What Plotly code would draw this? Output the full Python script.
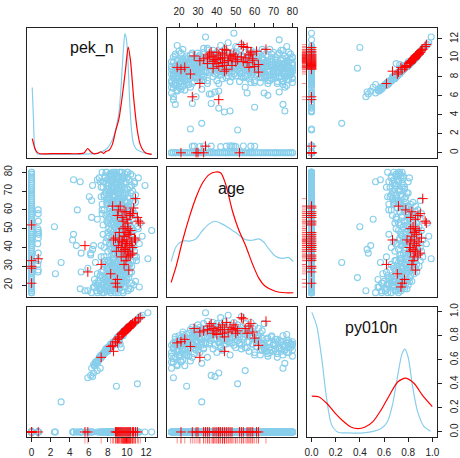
import plotly.graph_objects as go

# ---------------- data ----------------
VARS = ["pek_n", "age", "py010n"]
DATA_MIN = [0.0, 16.0, 0.0]
DATA_MAX = [12.68, 80.0, 1.0]

PEK_TICKS = [0, 2, 4, 6, 8, 10, 12]
AGE_TICKS = [20, 30, 40, 50, 60, 70, 80]
PY_TICKS = [0.0, 0.2, 0.4, 0.6, 0.8, 1.0]

# blue group: pek_n = 0, py010n = 0
zero_age = [16, 16, 17, 18, 18, 19, 20, 21, 22, 23, 24, 25, 26, 27, 28, 29, 30, 31, 32, 33, 34, 35,
            36, 37, 38, 39, 40, 41, 42, 43, 44, 45, 46, 47, 48, 49, 50, 51, 52, 53, 54, 55, 56, 57,
            58, 59, 60, 61, 62, 63, 64, 65, 66, 67, 68, 69, 70, 71, 72, 73, 74, 75, 76, 77, 78, 79,
            80, 80, 24, 33, 45, 58, 71]
# blue group: pek_n about 0.7, py010n = 0
z2_pek = [0.68, 0.70, 0.66, 0.72, 0.70, 0.65, 0.70, 0.74, 0.68, 0.70, 0.66, 0.71, 0.70, 0.69]
z2_age = [27, 28, 31, 33, 37, 42, 45, 47, 48, 49, 50, 54, 58, 60]
# blue group: py010n = 0, pek_n > 2
s_pek = [9.6, 8.8, 10.1, 7.9, 9.2, 10.4, 8.4, 9.8, 6.9, 10.7, 9.0, 8.1, 9.9, 10.9, 7.4, 11.3, 5.6, 5.1,
         9.4, 10.2, 8.6, 7.2, 9.9, 2.5, 10.5, 5.2, 8.9, 8.0, 5.9, 9.7, 10.3, 8.2, 7.7, 11.0, 9.3, 10.0, 7.6, 9.8,
         6.2, 5.2, 9.1, 10.4, 8.7, 7.3, 9.5, 4.7, 10.1, 8.5, 4.3, 7.9, 9.9, 4.4, 10.6, 9.2, 8.0, 10.2, 12.6, 2.4, 9.6, 11.2,
         7.5, 9.0, 10.3, 7.9, 8.8, 6.3, 9.7, 10.8, 7.4, 9.3, 4.8, 10.0, 8.6, 9.8, 10.5, 8.3, 9.1, 10.9, 6.3, 9.5, 8.9, 10.2,
         6.05, 9.4, 10.1, 8.7, 9.9, 10.6, 8.2, 9.3, 10.3, 11.9, 6.4, 8.9, 9.7, 10.8, 5.1, 7.6, 4.4, 7.1, 9.0, 10.0,
         8.4, 9.6, 10.4, 8.8, 9.2, 10.1, 7.8, 11.2, 9.5, 10.9]
s_age = [16, 16, 17, 17, 18, 18, 19, 19, 20, 20, 21, 21, 22, 22, 18, 19, 17, 18,
         23, 24, 25, 25, 26, 26, 27, 27, 28, 29, 29, 30, 31, 32, 33, 33, 34, 35, 35, 24,
         36, 37, 37, 38, 39, 41, 40, 41, 42, 43, 44, 45, 45, 47, 46, 47, 48, 49, 49, 51, 50, 50,
         52, 52, 53, 54, 55, 56, 56, 57, 58, 58, 60, 59, 60, 61, 62, 62, 63, 64, 65, 65, 64, 61,
         67, 66, 67, 68, 69, 70, 70, 71, 72, 73, 73, 73, 74, 74, 75, 75, 76, 77, 76, 77,
         78, 78, 79, 79, 80, 80, 80, 77, 72, 68]
# more py010n = 0 points in the dense core
s2_pek = [9.1, 8.3, 9.5, 10.2, 8.9, 9.3, 8.0, 9.7, 10.5, 8.6, 9.2, 10.0, 8.7, 9.5, 10.3, 8.4, 9.6, 9.0, 10.1, 8.8,
          9.4, 8.5, 10.0, 9.1, 9.8, 8.7, 10.2, 9.3, 8.4, 9.9, 10.6, 9.0, 8.6, 9.7, 10.3, 9.2, 8.9, 10.0, 9.5,
          8.3, 10.5, 9.3, 8.1, 9.8, 10.8,
          9.6, 8.7, 10.1, 9.2, 9.9, 8.5, 10.4, 9.0, 9.7, 8.9, 10.2, 9.4, 8.6, 10.0, 9.1, 9.8, 8.2, 10.6, 9.5, 8.8,
          9.2, 10.3, 8.5, 9.6, 9.0, 10.4, 8.7, 9.8, 10.1, 8.4, 9.3, 10.5, 9.0, 8.6, 9.9, 10.2, 9.4, 8.9, 9.7, 10.6,
          9.1, 8.3, 9.8, 10.0, 8.7, 9.5, 9.3, 10.8, 8.0, 9.6]
s2_age = [16, 17, 17, 18, 19, 20, 20, 21, 21, 22, 23, 23, 24, 25, 26, 27, 28, 29, 30, 30,
          31, 32, 33, 34, 36, 37, 38, 39, 40, 41, 42, 43, 44, 44, 45, 46, 47, 48, 48,
          49, 50, 51, 46, 40, 35,
          52, 53, 54, 55, 56, 57, 58, 59, 60, 61, 62, 63, 63, 64, 65, 65, 58, 60, 54, 51,
          66, 66, 67, 68, 69, 69, 70, 71, 71, 72, 73, 73, 74, 75, 75, 76, 76, 77, 77, 78,
          78, 79, 79, 80, 80, 80, 70, 75, 73, 67]
# blue group: py010n > 0
b_pek = [6.3, 7.4, 8.2, 6.8, 7.9, 5.9, 8.6, 7.1, 9.1, 6.5, 7.7, 8.4, 9.4, 7.3, 8.0, 6.7, 8.8, 7.6,
         9.7, 8.3, 7.0, 8.9, 7.8, 6.6, 9.3, 8.1, 7.4, 8.9, 9.6, 8.5, 7.2,
         9.9, 8.0, 6.9, 9.2, 8.6, 10.3, 7.5, 9.5, 8.3, 10.0, 8.8, 7.9, 9.4, 10.5, 8.4, 9.0, 7.7, 10.2,
         8.7, 9.8, 3.1, 6.7, 10.6, 9.3, 8.1, 12.2, 9.6, 8.5, 10.1, 7.3, 9.1, 11.0,
         9.7, 8.6, 10.4, 6.2, 9.2, 8.0, 10.8, 9.5, 6.4, 8.9, 10.0, 9.4, 7.6, 10.6, 6.5, 8.7, 9.9, 11.3,
         9.1, 8.2, 10.3, 9.6, 7.8, 8.9, 10.9, 9.3, 10.1, 8.4, 9.7, 11.6, 8.8, 10.5, 9.0, 7.5, 9.8, 8.5,
         10.7, 9.2, 8.1, 10.0, 11.1, 9.5,
         9.4, 10.4, 8.6, 9.9, 11.4, 8.3, 10.2, 9.1, 9.7, 6.9, 8.0, 10.6, 9.3, 8.7, 10.0, 7.8, 9.6, 10.8,
         8.4, 9.2, 10.3, 7.6, 9.0, 8.2, 10.1, 8.8, 9.5, 7.4, 9.8, 8.5, 7.9, 10.7,
         8.0, 9.1, 7.3, 8.6, 9.6, 7.8, 8.3, 9.0, 7.5, 8.7, 9.4, 8.1, 7.2, 6.9, 8.4, 9.2, 7.7, 8.9,
         8.2, 9.3, 7.9, 8.5]
b_age = [16, 16, 17, 17, 17, 17, 18, 18, 18, 19, 19, 19, 20, 20, 20, 21, 21, 21,
         22, 22, 22, 23, 23, 23, 24, 24, 24, 24, 25, 25, 25,
         26, 26, 26, 27, 27, 27, 28, 28, 28, 29, 29, 29, 30, 30, 30, 31, 31, 31,
         32, 32, 32, 32, 33, 33, 33, 34, 34, 34, 35, 35, 35, 35,
         36, 36, 37, 37, 37, 38, 38, 38, 39, 39, 39, 40, 40, 40, 41, 41, 41, 42,
         42, 42, 43, 43, 43, 44, 44, 44, 45, 45, 46, 46, 46, 47, 47, 47, 48, 48,
         49, 49, 50, 50, 51, 50,
         51, 51, 52, 52, 53, 53, 53, 54, 54, 55, 55, 55, 56, 56, 57, 57, 58, 58,
         59, 59, 60, 60, 61, 61, 62, 62, 63, 63, 64, 64, 65, 65,
         66, 67, 67, 68, 69, 69, 70, 71, 72, 72, 73, 74, 75, 76, 76, 77, 78, 78,
         79, 80, 80, 80]
b_py = [0.53, 0.63, 0.70, 0.58, 0.69, 0.45, 0.74, 0.62, 0.77, 0.56, 0.67, 0.72, 0.80, 0.64, 0.68, 0.58, 0.76, 0.66,
        0.83, 0.73, 0.60, 0.77, 0.69, 0.55, 0.81, 0.71, 0.64, 0.38, 0.82, 0.74, 0.63,
        0.85, 0.70, 0.59, 0.79, 0.75, 0.87, 0.65, 0.82, 0.72, 0.86, 0.76, 0.68, 0.81, 0.89, 0.71, 0.78, 0.66, 0.87,
        0.75, 0.84, 0.25, 0.57, 0.90, 0.80, 0.70, 0.99, 0.83, 0.73, 0.86, 0.62, 0.79, 0.92,
        0.84, 0.74, 0.88, 0.47, 0.80, 0.69, 0.91, 0.82, 0.46, 0.77, 0.86, 0.81, 0.66, 0.90, 0.49, 0.75, 0.85, 0.95,
        0.78, 0.71, 0.88, 0.83, 0.68, 0.76, 0.92, 0.81, 0.87, 0.73, 0.84, 0.97, 0.75, 0.89, 0.78, 0.64, 0.85, 0.74,
        0.91, 0.80, 0.70, 0.85, 0.40, 0.82,
        0.81, 0.89, 0.74, 0.85, 0.96, 0.72, 0.87, 0.79, 0.84, 0.51, 0.70, 0.90, 0.80, 0.75, 0.86, 0.67, 0.83, 0.91,
        0.73, 0.79, 0.88, 0.66, 0.78, 0.71, 0.86, 0.76, 0.82, 0.64, 0.84, 0.73, 0.69, 0.90,
        0.67, 0.78, 0.63, 0.74, 0.80, 0.68, 0.72, 0.77, 0.65, 0.75, 0.70, 0.69, 0.53, 0.57, 0.72, 0.76, 0.66, 0.74,
        0.70, 0.73, 0.68, 0.72]
# more py010n > 0 points in the dense core (near the upper edge of the band)
b2_pek = [7.6, 8.1, 8.7, 7.3, 8.4, 7.9, 8.9, 7.5, 8.6, 8.2, 9.1, 7.8, 8.8, 8.4, 9.3, 7.7, 8.6, 9.0, 8.1, 9.5,
          9.0, 8.5, 9.4, 8.1, 9.8, 8.7, 9.3, 9.9, 8.9, 9.5, 8.3, 9.1, 10.0, 8.6, 9.3, 9.8, 8.4, 9.2, 9.9, 8.8,
          9.5, 8.3, 9.6, 9.0, 10.1, 8.6, 9.3, 9.8, 8.9, 9.4, 10.2, 8.5, 9.1, 9.7, 8.2, 9.6, 8.0, 10.3, 8.7, 9.2,
          9.3, 8.6, 9.8, 9.0, 8.3, 9.5, 10.0, 8.8, 9.2, 8.4, 9.7, 8.9, 9.4, 8.1, 9.9, 8.7, 9.2, 8.5, 9.6, 8.9,
          8.2, 9.3, 8.6, 9.0, 7.9, 8.4, 9.5, 10.1, 8.0, 9.1,
          8.2, 8.8, 7.6, 8.5, 8.0, 8.9, 7.8, 8.3, 8.6, 7.9, 8.4, 8.1,
          7.4, 8.7, 9.2, 7.9, 8.4, 9.0, 7.6, 8.2, 9.3, 7.8, 8.6, 7.3, 9.1, 8.0, 8.8, 7.5, 9.4, 8.3, 7.7, 9.0,
          8.5, 7.4, 8.9, 9.6, 8.1,
          6.9, 8.3, 7.2, 9.2, 6.6, 7.8, 8.9, 7.0, 8.0, 7.5, 8.5, 7.3, 9.6, 7.9, 8.6]
b2_age = [16, 17, 17, 18, 18, 19, 19, 20, 20, 21, 21, 22, 22, 23, 23, 24, 24, 25, 25, 22,
          26, 27, 27, 28, 28, 29, 29, 30, 31, 31, 32, 32, 33, 34, 34, 35, 36, 36, 37, 37,
          38, 39, 39, 40, 40, 41, 41, 42, 43, 43, 44, 44, 45, 45, 42, 36, 33, 39, 30, 28,
          46, 47, 47, 48, 49, 49, 50, 51, 52, 52, 53, 54, 55, 56, 56, 57, 58, 59, 60, 60,
          61, 62, 63, 64, 64, 65, 57, 59, 53, 50,
          66, 67, 68, 70, 71, 73, 74, 75, 77, 76, 79, 78,
          60, 61, 62, 63, 64, 66, 67, 68, 69, 70, 71, 72, 72, 73, 74, 75, 75, 76, 77, 78,
          79, 80, 80, 77, 65,
          16, 16, 17, 18, 19, 20, 20, 21, 22, 23, 26, 27, 29, 30, 25]
b2_py = [0.66, 0.70, 0.74, 0.62, 0.72, 0.68, 0.76, 0.64, 0.74, 0.71, 0.78, 0.67, 0.75, 0.73, 0.80, 0.66, 0.73, 0.77, 0.69, 0.81,
         0.78, 0.73, 0.81, 0.70, 0.84, 0.75, 0.80, 0.85, 0.77, 0.82, 0.72, 0.79, 0.86, 0.74, 0.79, 0.84, 0.73, 0.80, 0.85, 0.76,
         0.81, 0.72, 0.83, 0.77, 0.87, 0.74, 0.80, 0.84, 0.76, 0.81, 0.87, 0.73, 0.79, 0.83, 0.70, 0.82, 0.69, 0.88, 0.74, 0.79,
         0.80, 0.74, 0.84, 0.78, 0.72, 0.82, 0.86, 0.76, 0.79, 0.73, 0.83, 0.77, 0.81, 0.70, 0.85, 0.75, 0.79, 0.73, 0.82, 0.77,
         0.71, 0.80, 0.74, 0.78, 0.68, 0.72, 0.82, 0.86, 0.69, 0.79,
         0.71, 0.75, 0.66, 0.73, 0.69, 0.76, 0.67, 0.72, 0.74, 0.68, 0.73, 0.70,
         0.64, 0.74, 0.79, 0.68, 0.72, 0.77, 0.65, 0.70, 0.79, 0.67, 0.73, 0.62, 0.77, 0.69, 0.75, 0.64, 0.80, 0.71, 0.66, 0.76,
         0.72, 0.63, 0.75, 0.81, 0.70,
         0.58, 0.72, 0.61, 0.79, 0.55, 0.67, 0.76, 0.59, 0.69, 0.64, 0.73, 0.62, 0.82, 0.68, 0.74]

# red group: pek_n = 0, py010n = 0
rz_age = [21, 29, 30, 33, 52]
# red group: py010n = 0
rs_pek = [0.7, 5.9, 5.6, 9.4, 10.2, 8.9, 9.8, 10.6, 9.1, 10.0, 9.5, 10.9, 8.8, 9.7, 10.3, 9.2,
          10.1, 9.6, 11.1, 9.0, 10.4, 9.9, 10.7, 9.3]
rs_age = [34, 27, 41, 35, 36, 38, 39, 40, 41, 42, 43, 44, 45, 46, 47, 48,
          53, 54, 56, 57, 58, 59, 61, 62]
# red group: py010n > 0
rb_pek = [8.8, 9.0, 8.3, 10.2, 7.3, 9.7, 9.9, 10.4, 10.0, 9.6, 10.1, 9.8, 10.6, 9.4, 10.3, 9.9, 10.5, 9.5,
          10.0, 9.2, 10.8, 9.7, 10.2, 9.9, 10.4, 9.6, 10.1, 9.8, 11.2, 10.0, 9.5, 10.6, 9.7, 10.3, 9.1, 8.5,
          10.9, 11.4, 8.6, 9.0]
rb_age = [21, 23, 26, 28, 31, 31, 33, 36, 35, 38, 38, 39, 37, 40, 41, 42, 43, 43,
          44, 44, 45, 46, 47, 48, 49, 50, 50, 51, 54, 55, 56, 58, 59, 57, 60, 62,
          66, 53, 44, 19]
rb_py = [0.75, 0.77, 0.71, 0.86, 0.62, 0.83, 0.84, 0.88, 0.85, 0.82, 0.86, 0.84, 0.90, 0.81, 0.87, 0.85, 0.89, 0.82,
         0.85, 0.79, 0.91, 0.83, 0.87, 0.85, 0.89, 0.82, 0.86, 0.84, 0.94, 0.86, 0.82, 0.90, 0.83, 0.88, 0.78, 0.72,
         0.92, 0.95, 0.67, 0.74]

# density curves on the diagonal (height as a fraction of the panel)
pek_dens_x_blue = [0.07, 0.2, 0.35, 0.6, 1.0, 2.0, 3.0, 4.0, 5.0, 6.0, 7.0, 7.5, 7.9, 8.3, 8.65, 8.9, 9.17,
                   9.35, 9.5, 9.65, 9.79, 9.9, 10.03, 10.15, 10.3, 10.45, 10.65, 10.85, 11.07, 11.5, 12.1, 12.6]
pek_dens_y_blue = [0.54, 0.3, 0.07, 0.03, 0.025, 0.025, 0.025, 0.025, 0.025, 0.028, 0.035, 0.05, 0.07, 0.11,
                   0.17, 0.24, 0.35, 0.5, 0.68, 0.85, 0.955, 0.93, 0.85, 0.68, 0.42, 0.24, 0.12, 0.08, 0.06,
                   0.045, 0.03, 0.025]
pek_dens_x_red = [0.07, 0.2, 0.35, 0.6, 0.9, 2.0, 3.0, 4.0, 5.0, 5.5, 5.88, 6.2, 6.5, 6.9, 7.27, 7.55, 7.8,
                  8.1, 8.47, 8.8, 9.17, 9.51, 9.86, 10.13, 10.37, 10.72, 11.07, 11.4, 11.9, 12.6]
pek_dens_y_red = [0.146, 0.11, 0.07, 0.04, 0.03, 0.03, 0.03, 0.03, 0.03, 0.035, 0.07, 0.045, 0.03, 0.032,
                  0.045, 0.032, 0.048, 0.055, 0.1, 0.2, 0.3, 0.47, 0.68, 0.85, 0.75, 0.45, 0.22, 0.1, 0.04, 0.025]
age_dens_x_blue = [15.8, 18.4, 21.9, 25.4, 28.9, 32.4, 35.9, 38.9, 42.1, 46.4, 50.8, 55.2, 58.7, 62.2,
                   64.8, 67.4, 70.9, 74.4, 77.9, 80.5]
age_dens_y_blue = [0.275, 0.39, 0.434, 0.434, 0.45, 0.515, 0.566, 0.586, 0.57, 0.535, 0.49, 0.445, 0.44,
                   0.45, 0.427, 0.376, 0.318, 0.3, 0.308, 0.275]
age_dens_x_red = [15.8, 18.4, 21.9, 25.4, 28.9, 32.4, 35.9, 39.4, 42.1, 44.7, 48.2, 51.7, 55.2, 58.7,
                  62.2, 65.6, 70.9, 76.1, 80.5]
age_dens_y_red = [0.116, 0.237, 0.44, 0.616, 0.767, 0.88, 0.945, 0.965, 0.957, 0.87, 0.667, 0.515, 0.4,
                  0.263, 0.149, 0.086, 0.048, 0.036, 0.036]
py_dens_x_blue = [0.003, 0.044, 0.085, 0.125, 0.166, 0.22, 0.3, 0.43, 0.52, 0.576, 0.63, 0.67, 0.713,
                  0.748, 0.773, 0.8, 0.835, 0.877, 0.93, 0.985]
py_dens_y_blue = [0.957, 0.85, 0.6, 0.295, 0.093, 0.035, 0.03, 0.03, 0.043, 0.063, 0.12, 0.245, 0.47,
                  0.636, 0.674, 0.61, 0.396, 0.195, 0.08, 0.043]
py_dens_x_red = [0.003, 0.058, 0.126, 0.195, 0.263, 0.33, 0.385, 0.44, 0.51, 0.576, 0.645, 0.713, 0.78,
                 0.85, 0.917, 0.999]
py_dens_y_red = [0.313, 0.308, 0.258, 0.182, 0.119, 0.073, 0.063, 0.073, 0.119, 0.207, 0.32, 0.422,
                 0.452, 0.41, 0.32, 0.232]

# ---------------- assemble ----------------
n_py0 = len(zero_age) + len(z2_age) + len(s_age) + len(s2_age)
blue = [
    [0.0] * len(zero_age) + z2_pek + s_pek + s2_pek + b_pek + b2_pek,
    zero_age + z2_age + s_age + s2_age + b_age + b2_age,
    [0.0] * n_py0 + b_py + b2_py,
]
red = [
    [0.0] * len(rz_age) + rs_pek + rb_pek,
    rz_age + rs_age + rb_age,
    [0.0] * (len(rz_age) + len(rs_age)) + rb_py,
]
dens = [
    (pek_dens_x_blue, pek_dens_y_blue, pek_dens_x_red, pek_dens_y_red),
    (age_dens_x_blue, age_dens_y_blue, age_dens_x_red, age_dens_y_red),
    (py_dens_x_blue, py_dens_y_blue, py_dens_x_red, py_dens_y_red),
]

W, H = 460, 458
COL_L = [25, 166.5, 308]
ROW_T = [24, 166, 307.5]
SIZE = 132
BLUE = "#87CEEB"
BLUE_LINE = "#87CEEB"
RUG = "rgba(255,0,0,0.45)"
AXC = "#222222"
FONT = "Liberation Sans, Arial, Helvetica, sans-serif"

rng = [(lo - 0.04 * (hi - lo), hi + 0.04 * (hi - lo)) for lo, hi in zip(DATA_MIN, DATA_MAX)]


def sfx(i):
    return "" if i == 1 else str(i)


def xdom(c):
    return [COL_L[c] / W, (COL_L[c] + SIZE) / W]


def ydom(r):
    return [1 - (ROW_T[r] + SIZE) / H, 1 - ROW_T[r] / H]


fig = go.Figure()
layout = {}
for r in range(3):
    for c in range(3):
        i = r * 3 + c + 1
        common = dict(showline=True, mirror=True, linecolor=AXC, linewidth=1, showgrid=False,
                      zeroline=False, ticks="", showticklabels=False, fixedrange=True,
                      tickfont=dict(family=FONT, size=10, color=AXC), tickcolor=AXC, ticklen=4)
        xa = dict(domain=xdom(c), range=list(rng[c]), anchor="y" + sfx(i), **common)
        ya = dict(domain=ydom(r), range=list(rng[r]), anchor="x" + sfx(i), **common)
        if (r, c) == (0, 1):
            xa.update(side="top", ticks="outside", showticklabels=True, tickvals=AGE_TICKS,
                      ticklabelstandoff=4)
        if (r, c) == (2, 0):
            xa.update(side="bottom", ticks="outside", showticklabels=True, tickvals=PEK_TICKS,
                      ticklabelstandoff=2)
        if (r, c) == (2, 2):
            xa.update(side="bottom", ticks="outside", showticklabels=True, tickvals=PY_TICKS,
                      tickformat=".1f", ticklabelstandoff=2)
            ya.update(side="right", ticks="outside", showticklabels=True, tickvals=PY_TICKS,
                      tickformat=".1f", tickangle=-90, ticklabelstandoff=4)
        if (r, c) == (0, 2):
            ya.update(side="right", ticks="outside", showticklabels=True, tickvals=PEK_TICKS,
                      tickangle=-90, ticklabelstandoff=4)
        if (r, c) == (1, 0):
            ya.update(side="left", ticks="outside", showticklabels=True, tickvals=AGE_TICKS,
                      tickangle=-90, ticklabelstandoff=6)
        layout["xaxis" + sfx(i)] = xa
        layout["yaxis" + sfx(i)] = ya

        xr, yr = "x" + sfx(i), "y" + sfx(i)
        if r == c:
            lo, hi = rng[r]
            bx, by, rx, ry = dens[r]
            fig.add_trace(go.Scatter(x=bx, y=[lo + v * (hi - lo) for v in by], mode="lines",
                                     line=dict(color=BLUE_LINE, width=1.2, shape="spline", smoothing=0.7),
                                     xaxis=xr, yaxis=yr, hoverinfo="skip"))
            fig.add_trace(go.Scatter(x=rx, y=[lo + v * (hi - lo) for v in ry], mode="lines",
                                     line=dict(color="red", width=1.2, shape="spline", smoothing=0.7),
                                     xaxis=xr, yaxis=yr, hoverinfo="skip"))
        else:
            fig.add_trace(go.Scatter(x=blue[c], y=blue[r], mode="markers",
                                     marker=dict(symbol="circle-open", size=6, color=BLUE,
                                                 line=dict(width=1.1, color=BLUE)),
                                     xaxis=xr, yaxis=yr, hoverinfo="skip"))
            fig.add_trace(go.Scatter(x=red[c], y=red[r], mode="markers",
                                     marker=dict(symbol="cross-thin-open", size=7, color="red",
                                                 line=dict(width=1, color="red")),
                                     xaxis=xr, yaxis=yr, hoverinfo="skip"))

# rug strips of the red group (own thin axes next to the panels)
red_pek_rug = [v for v in red[0] if v > 1]
hidden = dict(visible=False, fixedrange=True, range=[0, 1])
strip_bottom = [1 - 446.5 / H, 1 - 440.5 / H]
strip_right = [303 / W, 308 / W]
layout["xaxis10"] = dict(domain=xdom(0), range=list(rng[0]), anchor="y10", visible=False, fixedrange=True)
layout["yaxis10"] = dict(domain=strip_bottom, anchor="x10", **hidden)
layout["xaxis11"] = dict(domain=xdom(1), range=list(rng[1]), anchor="y11", visible=False, fixedrange=True)
layout["yaxis11"] = dict(domain=strip_bottom, anchor="x11", **hidden)
layout["xaxis12"] = dict(domain=strip_right, anchor="y12", **hidden)
layout["yaxis12"] = dict(domain=ydom(0), range=list(rng[0]), anchor="x12", visible=False, fixedrange=True)
layout["xaxis13"] = dict(domain=strip_right, anchor="y13", **hidden)
layout["yaxis13"] = dict(domain=ydom(1), range=list(rng[1]), anchor="x13", visible=False, fixedrange=True)


def rug_xy(vals):
    a, b = [], []
    for v in vals:
        a += [v, v, None]
        b += [0, 1, None]
    return a, b


rv, rc = rug_xy(red_pek_rug)
fig.add_trace(go.Scatter(x=rv, y=rc, mode="lines", line=dict(color=RUG, width=1),
                         xaxis="x10", yaxis="y10", hoverinfo="skip"))
fig.add_trace(go.Scatter(x=rc, y=rv, mode="lines", line=dict(color=RUG, width=1),
                         xaxis="x12", yaxis="y12", hoverinfo="skip"))
av, ac = rug_xy(red[1])
fig.add_trace(go.Scatter(x=av, y=ac, mode="lines", line=dict(color=RUG, width=1),
                         xaxis="x11", yaxis="y11", hoverinfo="skip"))
fig.add_trace(go.Scatter(x=ac, y=av, mode="lines", line=dict(color=RUG, width=1),
                         xaxis="x13", yaxis="y13", hoverinfo="skip"))

annotations = []
for k, name in enumerate(VARS):
    annotations.append(dict(text=name, xref="paper", yref="paper",
                            x=(COL_L[k] + SIZE / 2) / W, y=1 - (ROW_T[k] + 21) / H,
                            xanchor="center", yanchor="middle", showarrow=False,
                            font=dict(family=FONT, size=16, color="#111111")))

fig.update_layout(width=W, height=H, margin=dict(l=0, r=0, t=0, b=0),
                  plot_bgcolor="white", paper_bgcolor="white", showlegend=False,
                  annotations=annotations, **layout)

fig.write_html("out.html", config={"displayModeBar": False, "staticPlot": True},
               post_script="document.body.style.margin='0px';")
